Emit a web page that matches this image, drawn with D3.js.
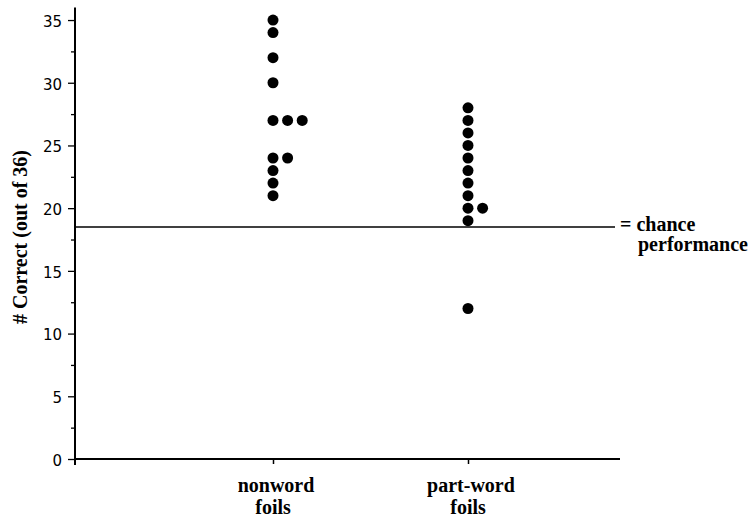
<!DOCTYPE html>
<html>
<head>
<meta charset="utf-8">
<script src="https://cdn.jsdelivr.net/npm/d3@7/dist/d3.min.js"></script>
<style>
  html, body { margin: 0; padding: 0; background: #fff; }
  svg { display: block; }
  .serif { font-family: "Liberation Serif", "DejaVu Serif", "Times New Roman", serif; font-weight: bold; font-size: 20px; }
  .sans { font-family: "DejaVu Sans", Verdana, sans-serif; font-size: 15px; }
</style>
</head>
<body>
<svg id="chart" width="752" height="518"></svg>
<script>
// ---- data ----
const categories = ["nonword", "part-word"];
const categoryLines = [["nonword", "foils"], ["part-word", "foils"]];
const nonwordScores = [35, 34, 32, 30, 27, 27, 27, 24, 24, 23, 22, 21];
const partwordScores = [28, 27, 26, 25, 24, 23, 22, 21, 20, 20, 19, 12];
const majorTicks = [0, 5, 10, 15, 20, 25, 30, 35];
const minorTicks = [2.5, 7.5, 12.5, 17.5, 22.5, 27.5, 32.5];
const chanceLevel = 18.5;
const yMax = 36;
const yLabel = "# Correct (out of 36)";
const chanceLabel = ["= chance", "performance"];

// ---- layout ----
const svg = d3.select("#chart");
const axisX = 75, axisRight = 620, chanceRight = 615;
const y = d3.scaleLinear().domain([0, yMax]).range([459, 7.5]);
const x = d3.scalePoint().domain(categories).range([273, 468]);
const dotR = 5.5, dotStep = 14.6;

// build dot table: stack duplicates horizontally
const seriesByCat = { "nonword": nonwordScores, "part-word": partwordScores };
const dots = [];
categories.forEach(c => {
  const counts = {};
  seriesByCat[c].forEach(v => {
    const k = counts[v] || 0;
    counts[v] = k + 1;
    dots.push({ cat: c, value: v, idx: k });
  });
});

// y axis (major ticks)
const gMajor = svg.append("g")
  .attr("transform", `translate(${axisX},0)`)
  .call(d3.axisLeft(y).tickValues(majorTicks).tickSize(7).tickPadding(6));
gMajor.attr("font-family", null).attr("font-size", null);
gMajor.select(".domain").remove();
gMajor.selectAll(".tick line").attr("stroke", "#000").attr("stroke-width", 1.3);
gMajor.selectAll(".tick text")
  .attr("class", "sans").attr("fill", "#000").attr("dy", "0.42em");

// y axis (minor ticks)
const gMinor = svg.append("g")
  .attr("transform", `translate(${axisX},0)`)
  .call(d3.axisLeft(y).tickValues(minorTicks).tickSize(4).tickFormat(""));
gMinor.select(".domain").remove();
gMinor.selectAll(".tick line").attr("stroke", "#000").attr("stroke-width", 1.3);

// y axis line
svg.append("line")
  .attr("x1", axisX).attr("x2", axisX)
  .attr("y1", y(yMax)).attr("y2", y(0) + 6)
  .attr("stroke", "#000").attr("stroke-width", 2);

// x axis
const gX = svg.append("g")
  .attr("transform", `translate(0,${y(0)})`)
  .call(d3.axisBottom(x).tickSize(5).tickFormat(""));
gX.select(".domain").remove();
gX.selectAll(".tick line").attr("stroke", "#000").attr("stroke-width", 1.5);
svg.append("line")
  .attr("x1", axisX).attr("x2", axisRight)
  .attr("y1", y(0)).attr("y2", y(0))
  .attr("stroke", "#000").attr("stroke-width", 1.8);

// category labels
categories.forEach((c, i) => {
  const t = svg.append("text")
    .attr("class", "serif")
    .attr("text-anchor", "middle").attr("fill", "#000");
  categoryLines[i].forEach((line, j) => {
    t.append("tspan").attr("x", x(c) + (j === 0 ? 3 : 0)).attr("y", 492 + j * 22).text(line);
  });
});

// y label
svg.append("text")
  .attr("class", "serif")
  .attr("transform", "translate(27,237) rotate(-90)")
  .attr("text-anchor", "middle")
  .attr("fill", "#000")
  .text(yLabel);

// chance line
svg.append("line")
  .attr("x1", axisX).attr("x2", chanceRight)
  .attr("y1", y(chanceLevel)).attr("y2", y(chanceLevel))
  .attr("stroke", "#000").attr("stroke-width", 1.5);

svg.append("text")
  .attr("class", "serif")
  .attr("x", 620).attr("y", y(chanceLevel) + 4)
  .attr("fill", "#000").text(chanceLabel[0]);
svg.append("text")
  .attr("class", "serif")
  .attr("x", 638).attr("y", y(chanceLevel) + 24)
  .attr("fill", "#000").text(chanceLabel[1]);

// dots
svg.append("g").selectAll("circle")
  .data(dots)
  .join("circle")
  .attr("cx", d => x(d.cat) + d.idx * dotStep)
  .attr("cy", d => y(d.value))
  .attr("r", dotR)
  .attr("fill", "#000");
</script>
</body>
</html>
